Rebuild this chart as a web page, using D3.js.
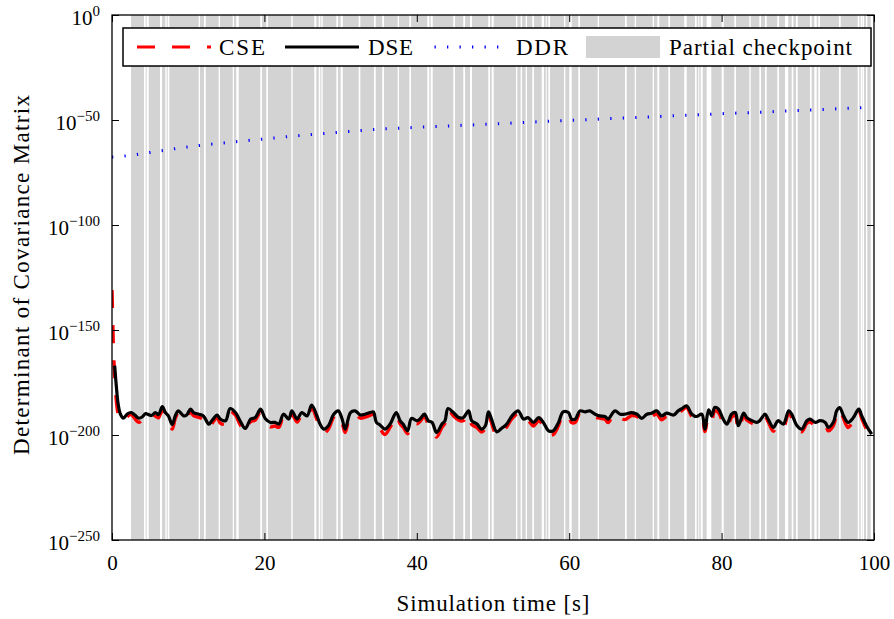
<!DOCTYPE html>
<html>
<head>
<meta charset="utf-8">
<script src="https://cdn.jsdelivr.net/npm/d3@7"></script>
<style>
  html, body { margin: 0; padding: 0; background: #fff; }
  svg { display: block; }
  svg text { font-family: "Liberation Serif", "DejaVu Serif", "Times New Roman", Times, serif !important; fill: #000; }
</style>
</head>
<body>
<svg id="chart" width="894" height="619"></svg>
<script>
// ---------------- data ----------------
const xTicks = [0, 20, 40, 60, 80, 100];
const yTickExponents = [0, -50, -100, -150, -200, -250];
const seriesNames = ["CSE", "DSE", "DDR", "Partial checkpoint"];

// Time axis shared by CSE and DSE (seconds)
const time = [0, 0.1, 0.2, 0.35, 0.55, 0.8, 1.1, 1.5,
  2.0, 2.5, 3.0, 3.5, 4.0, 4.4, 4.8, 5.2, 5.7, 6.1, 6.6, 7.0, 7.4, 7.9, 8.3, 8.7, 9.4, 9.8,
  10.3, 10.7, 11.4, 12.0, 12.7, 13.1, 13.8, 14.2, 14.9, 15.5, 16.2, 16.8, 17.5, 18.2, 18.8, 19.5,
  20.1, 20.8, 21.4, 21.9, 22.5, 23.2, 23.6, 24.3, 24.9, 25.6, 26.2, 26.9, 27.3, 27.8, 28.4, 29.1, 29.7,
  30.2, 30.6, 31.3, 31.9, 32.6, 33.2, 33.9, 34.3, 34.7, 35.2, 35.8, 36.5, 37.3, 37.8, 38.2, 38.8, 39.3,
  40.0, 40.4, 41.0, 41.5, 42.0, 42.6, 43.3, 43.7, 44.1, 44.8, 45.5, 46.1, 46.8, 47.2, 47.9, 48.5, 49.0, 49.4, 49.8,
  50.5, 51.1, 51.8, 52.5, 53.3, 54.0, 54.6, 55.3, 56.0, 56.6, 57.3, 57.9, 58.6, 59.2, 59.9,
  60.3, 60.8, 61.4, 62.1, 62.7, 63.4, 64.0, 64.7, 65.1, 66.0, 66.7, 67.3, 68.2, 68.9, 69.5,
  70.2, 70.8, 71.5, 72.1, 72.8, 73.7, 74.3, 74.8, 75.4, 76.1, 76.7, 77.4, 77.8, 78.3, 78.7, 79.1, 79.6,
  80.2, 80.7, 81.3, 81.8, 82.2, 82.9, 83.3, 84.0, 84.6, 85.0, 85.7, 86.1, 86.8, 87.4, 88.1, 88.8, 89.2, 89.9,
  90.5, 91.2, 91.6, 92.3, 92.9, 93.6, 94.0, 94.7, 95.1, 95.5, 96.0, 96.6, 97.3, 98.0, 98.4, 99.0, 99.7];

// log10 of determinant (DSE), null = not yet plotted
const dseExp = [null, null, null, -167, -176, -185, -190, -192,
  -190.0, -189.3, -190.5, -192.0, -191.3, -189.8, -190.3, -190.7, -189.3, -190.3, -186.5, -189.3, -190.9, -195.0, -190.9, -188.5, -190.9, -190.5,
  -187.7, -189.3, -190.1, -190.9, -194.8, -193.2, -190.5, -192.4, -193.2, -187.4, -189.3, -193.2, -196.9, -192.4, -191.7, -187.7,
  -192.1, -194.0, -194.0, -194.8, -190.1, -192.4, -188.5, -192.4, -189.3, -190.9, -185.8, -190.9, -194.8, -197.2, -195.6, -190.1, -188.5,
  -192.4, -197.2, -189.3, -188.5, -190.5, -190.1, -189.3, -189.0, -194.0, -195.3, -197.2, -194.8, -189.3, -193.2, -194.8, -198.0, -192.1,
  -193.2, -192.4, -190.1, -193.2, -194.0, -198.8, -194.8, -193.2, -187.4, -189.3, -191.7, -191.7, -188.5, -193.2, -194.8, -197.2, -195.6, -189.0, -192.4,
  -198.5, -196.9, -194.8, -190.9, -188.5, -192.4, -191.7, -194.0, -191.7, -194.0, -198.0, -198.0, -194.0, -189.0, -189.3,
  -192.4, -192.4, -188.5, -189.0, -188.5, -190.1, -190.9, -191.2, -192.4, -188.5, -190.1, -190.1, -189.3, -190.1, -192.1,
  -190.1, -189.6, -188.5, -190.9, -189.6, -190.5, -188.5, -187.4, -186.1, -190.1, -191.2, -190.1, -197.2, -188.0, -190.9, -186.9, -187.7,
  -192.4, -194.8, -190.1, -189.3, -195.6, -189.6, -191.7, -193.2, -194.0, -193.2, -190.1, -192.4, -196.4, -193.2, -194.8, -188.5, -190.1, -195.6,
  -197.2, -193.2, -192.4, -194.0, -193.2, -194.0, -196.4, -193.7, -188.5, -186.9, -190.9, -194.0, -191.7, -187.7, -190.9, -195.6, -199.6];

// log10 of determinant (CSE)
const cseExp = [-131, -146, -160, -172, -183, -190, -193, -193.5,
  -191.3, -190.3, -192.2, -194.0, -192.6, -191.2, -192.3, -192.7, -191.0, -191.8, -188.0, -190.8, -192.5, -197.2, -192.2, -189.5, -192.6, -192.0,
  -188.8, -190.8, -191.6, -192.6, -196.6, -194.6, -191.8, -194.3, -194.8, -188.7, -190.6, -195.0, -198.8, -193.6, -192.9, -189.1,
  -193.9, -196.1, -195.7, -196.3, -191.4, -194.2, -190.0, -193.8, -190.6, -192.1, -187.2, -192.7, -196.8, -199.2, -197.2, -191.4, -189.8,
  -194.2, -198.8, -190.6, -190.2, -192.0, -191.5, -190.6, -190.2, -195.7, -197.2, -199.8, -196.3, -190.4, -194.7, -196.2, -199.4, -193.6,
  -194.7, -193.7, -191.1, -194.7, -195.9, -201.0, -196.3, -194.4, -188.0, -190.8, -193.0, -193.2, -189.8, -195.0, -196.5, -198.6, -196.7, -190.0, -194.1,
  -200.4, -198.6, -196.1, -192.2, -190.0, -193.7, -193.1, -195.7, -193.2, -195.5, -200.0, -199.8, -195.5, -190.0, -190.6,
  -194.1, -194.0, -189.6, -190.4, -190.2, -191.5, -192.0, -192.5, -194.1, -189.6, -191.6, -192.7, -190.8, -191.2, -193.2,
  -191.5, -191.2, -190.0, -192.8, -191.1, -192.0, -189.8, -188.3, -186.8, -191.2, -192.2, -191.6, -198.4, -190.2, -192.7, -188.6, -189.4,
  -194.2, -196.5, -191.6, -190.8, -198.0, -191.0, -192.8, -194.4, -195.2, -194.2, -191.2, -193.6, -198.2, -194.6, -196.3, -189.6, -191.6, -197.1,
  -198.5, -194.4, -193.8, -195.6, -194.6, -195.2, -198.0, -195.3, -189.8, -187.8, -192.2, -196.4, -193.0, -188.5, -192.2, -197.1, -201.0];

// DDR: log10 of determinant
const ddrTime = [0, 1, 2, 4, 6, 8, 10, 12, 15, 20, 25, 30, 35, 40, 45, 50, 55, 60, 65, 70, 75, 80, 85, 90, 95, 99];
const ddrExp = [-67.6, -67.4, -67.0, -66.0, -64.9, -63.8, -62.8, -61.9, -60.8, -59.0, -57.3, -55.8, -54.4, -53.5, -52.7,
  -51.9, -51.0, -50.2, -49.4, -48.6, -47.8, -47.0, -46.3, -45.5, -44.7, -44.0];

// Partial checkpoint: active from start to end except the listed gaps (seconds)
const checkpointStart = 2.5;
const checkpointEnd = 99.74;
const gapStart = [4.20, 4.55, 6.30, 7.00, 7.31, 11.38, 12.07, 14.00, 15.84, 16.31, 19.46, 20.25, 23.53, 26.55, 27.13, 27.47,
  29.44, 30.01, 32.38, 34.38, 35.47, 37.49, 39.02, 41.38, 41.82, 44.79, 46.10, 46.98, 49.38, 49.83, 53.02, 53.63, 54.29,
  55.16, 56.39, 56.92, 57.26, 59.32, 60.01, 61.19, 63.74, 67.32, 68.60, 70.96, 71.56, 73.01, 75.10, 76.51, 76.94, 77.26,
  78.04, 80.01, 81.67, 83.64, 84.95, 85.70, 87.31, 88.32, 89.20, 89.76, 91.60, 92.17, 92.69, 95.41, 97.86, 98.25, 98.52,
  98.95, 99.57];
const gapEnd = [4.42, 4.82, 6.56, 7.18, 7.52, 11.55, 12.30, 14.17, 16.01, 16.63, 19.69, 20.47, 23.71, 26.81, 27.34, 27.65,
  29.66, 30.28, 32.59, 34.61, 35.70, 37.66, 39.24, 41.64, 42.09, 45.01, 46.33, 47.24, 49.61, 50.09, 53.19, 53.81, 54.46,
  55.38, 56.69, 57.05, 57.48, 59.49, 60.33, 61.42, 63.91, 67.55, 68.77, 71.13, 71.82, 73.23, 75.42, 76.73, 77.07, 77.52,
  78.65, 80.28, 81.89, 83.82, 85.17, 85.92, 87.53, 88.75, 89.41, 89.99, 91.82, 92.48, 92.91, 95.63, 98.07, 98.46, 98.69,
  99.12, 99.78];

// ---------------- layout ----------------
const FONT = "'Liberation Serif', 'DejaVu Serif', 'Times New Roman', Times, serif";
const svg = d3.select("#chart");
const M = { left: 112, top: 15, right: 874, bottom: 540 };
const W = M.right - M.left, H = M.bottom - M.top;

const x = d3.scaleLinear().domain([0, 100]).range([M.left, M.right]);
const y = d3.scaleLog().domain([1e-250, 1]).range([M.bottom, M.top]);
const pw = e => Math.pow(10, e);

svg.append("defs").append("clipPath").attr("id", "clip")
  .append("rect").attr("x", M.left).attr("y", M.top).attr("width", W).attr("height", H);

// checkpoint intervals = complement of gaps
const intervals = [];
let cur = checkpointStart;
gapStart.forEach((g, i) => {
  if (g > cur) intervals.push([cur, g]);
  cur = Math.max(cur, gapEnd[i]);
});
if (cur < checkpointEnd) intervals.push([cur, checkpointEnd]);

const plot = svg.append("g").attr("clip-path", "url(#clip)");
plot.append("g").selectAll("rect").data(intervals).join("rect")
  .attr("x", d => x(d[0])).attr("width", d => Math.max(0, x(d[1]) - x(d[0])))
  .attr("y", M.top).attr("height", H).attr("fill", "#d3d3d3");

// DDR
const ddrData = ddrTime.map((t, i) => [t, ddrExp[i]]);
plot.append("path").datum(ddrData)
  .attr("fill", "none").attr("stroke", "#0000ff").attr("stroke-width", 3)
  .attr("stroke-dasharray", "1.3,11.2")
  .attr("d", d3.line().x(d => x(d[0])).y(d => y(pw(d[1]))).curve(d3.curveMonotoneX));

// CSE
const line = d3.line().defined(d => d[1] !== null)
  .x(d => x(d[0])).y(d => y(pw(d[1]))).curve(d3.curveCatmullRom.alpha(0.5));
plot.append("path").datum(time.map((t, i) => [t, cseExp[i]]))
  .attr("fill", "none").attr("stroke", "#ff0000").attr("stroke-width", 3.4)
  .attr("stroke-dasharray", "18,17").attr("d", line);
// DSE
plot.append("path").datum(time.map((t, i) => [t, dseExp[i]]))
  .attr("fill", "none").attr("stroke", "#000").attr("stroke-width", 3.2)
  .attr("stroke-linejoin", "round").attr("d", line);

// ---------------- axes ----------------
const tickLen = 7;
const yTickVals = yTickExponents.map(pw);
const fmtExp = d => { const e = Math.round(Math.log10(d)); return e === 0 ? "0" : "\u2212" + Math.abs(e); };

const gx = svg.append("g").attr("transform", `translate(0,${M.bottom})`)
  .call(d3.axisBottom(x).tickValues(xTicks).tickSize(-tickLen).tickPadding(15).tickFormat(d3.format("d")));
gx.attr("font-family", FONT);
gx.selectAll("text").attr("font-size", 21);
svg.append("g").attr("transform", `translate(0,${M.top})`)
  .call(d3.axisTop(x).tickValues(xTicks).tickSize(-tickLen).tickFormat(""));

const gy = svg.append("g").attr("transform", `translate(${M.left},0)`)
  .call(d3.axisLeft(y).tickValues(yTickVals).tickSize(-tickLen).tickPadding(12).tickFormat(""));
gy.attr("font-family", FONT);
gy.selectAll(".tick text").each(function (d) {
  const t = d3.select(this);
  t.attr("dy", "0.45em").attr("font-size", 21);
  t.text(null);
  t.append("tspan").text("10");
  t.append("tspan").attr("dy", -9).attr("font-size", 15).text(fmtExp(d));
});
svg.append("g").attr("transform", `translate(${M.right},0)`)
  .call(d3.axisRight(y).tickValues(yTickVals).tickSize(-tickLen).tickFormat(""));

svg.selectAll(".domain").remove();
svg.selectAll(".tick line").attr("stroke", "#000").attr("stroke-width", 1);

// frame
svg.append("rect").attr("x", M.left).attr("y", M.top).attr("width", W).attr("height", H)
  .attr("fill", "none").attr("stroke", "#000").attr("stroke-width", 1.3);

// axis titles
svg.append("text").attr("x", (M.left + M.right) / 2).attr("y", 611)
  .attr("text-anchor", "middle").attr("font-size", 23).attr("font-family", FONT)
  .attr("textLength", 193).attr("lengthAdjust", "spacing")
  .text("Simulation time [s]");
svg.append("text").attr("transform", `translate(29,${(95 + 455) / 2}) rotate(-90)`)
  .attr("text-anchor", "middle").attr("font-size", 23).attr("font-family", FONT)
  .attr("textLength", 360).attr("lengthAdjust", "spacing")
  .text("Determinant of Covariance Matrix");

// ---------------- legend ----------------
const lg = svg.append("g").attr("font-family", FONT);
lg.append("rect").attr("x", 123).attr("y", 28).attr("width", 748).attr("height", 38)
  .attr("fill", "#fff").attr("stroke", "#000").attr("stroke-width", 1.5);
const ly = 47, lb = 55;
lg.append("line").attr("x1", 137).attr("x2", 211).attr("y1", ly).attr("y2", ly)
  .attr("stroke", "#ff0000").attr("stroke-width", 3).attr("stroke-dasharray", "18,17");
lg.append("line").attr("x1", 285).attr("x2", 359).attr("y1", ly).attr("y2", ly)
  .attr("stroke", "#000").attr("stroke-width", 3);
lg.append("line").attr("x1", 434.5).attr("x2", 502).attr("y1", ly).attr("y2", ly)
  .attr("stroke", "#0000ff").attr("stroke-width", 3).attr("stroke-dasharray", "1.3,11.2");
lg.append("rect").attr("x", 586).attr("y", 36).attr("width", 74).attr("height", 22).attr("fill", "#d3d3d3");
const legendText = [
  { name: seriesNames[0], x: 219, w: 46 },
  { name: seriesNames[1], x: 368, w: 45 },
  { name: seriesNames[2], x: 516, w: 52 },
  { name: seriesNames[3], x: 669, w: 183 }
];
lg.selectAll("text.lt").data(legendText).join("text").attr("class", "lt")
  .attr("x", d => d.x).attr("y", lb).attr("font-size", 23)
  .attr("textLength", d => d.w).attr("lengthAdjust", "spacing")
  .text(d => d.name);
</script>
</body>
</html>
